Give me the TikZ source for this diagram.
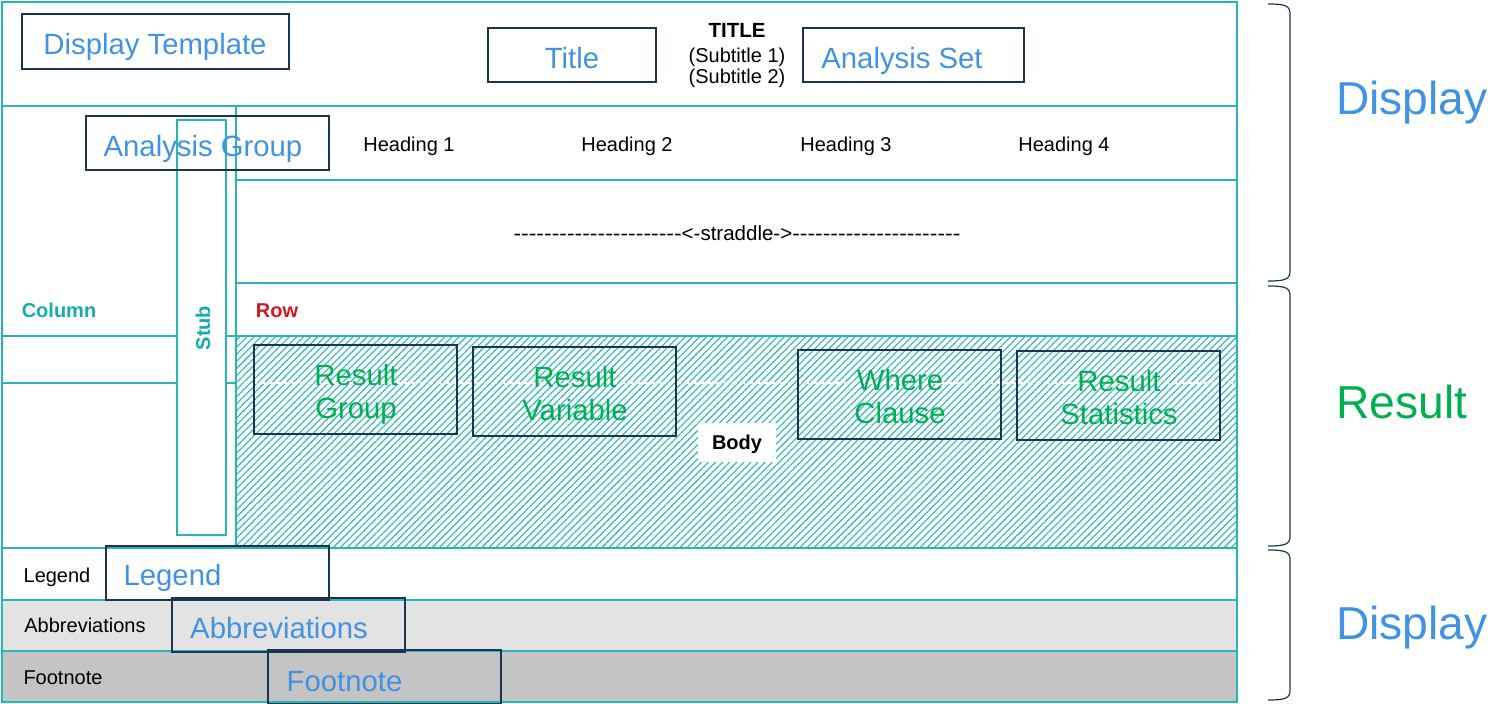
\documentclass[tikz,border=0pt]{standalone}
\usepackage{fontspec}
\usepackage{graphicx}
\setmainfont{Liberation Sans}
\newfontfamily\noligfont{Liberation Sans}
\usetikzlibrary{patterns.meta}
\definecolor{tealc}{RGB}{38,182,182}
\definecolor{tealtxt}{RGB}{20,172,172}
\definecolor{navyc}{RGB}{28,52,84}
\definecolor{bluetxt}{RGB}{66,146,226}
\definecolor{greentxt}{RGB}{0,176,80}
\definecolor{redtxt}{RGB}{210,22,34}
\definecolor{graya}{RGB}{227,227,227}
\definecolor{grayb}{RGB}{196,196,196}
\tikzset{
  tline/.style={draw=tealc, line width=1.3pt},
  dbox/.style={draw=navyc, line width=1.9pt, inner sep=0pt},
  bluelab/.style={text=bluetxt, inner sep=0pt, anchor=base, font=\fontsize{29.3}{33}\selectfont},
  greenlab/.style={text=greentxt, inner sep=0pt, anchor=base, font=\fontsize{29.3}{33}\selectfont},
  smalltxt/.style={text=black, inner sep=0pt, anchor=base, font=\fontsize{20}{23.5}\selectfont},
  boldtxt/.style={inner sep=0pt, anchor=base, font=\bfseries\fontsize{20}{23.5}\selectfont},
  sidelab/.style={inner sep=0pt, anchor=base, font=\fontsize{46.2}{50}\selectfont},
  bracec/.style={draw=navyc, line width=1.2pt},
}
\begin{document}
\begin{tikzpicture}[x=1pt,y=-1pt]
\useasboundingbox (0,0) rectangle (1492,704);
% row fills
\fill[graya] (2,600) rectangle (1237,651);
\fill[grayb] (2,651) rectangle (1237,702);
% body hatch
\path[pattern={Lines[angle=45,distance=5pt,line width=1.1pt]}, pattern color=tealc] (236,336) rectangle (1237,548);
\draw[white, line width=1.2pt, dash pattern=on 5pt off 3pt] (236,383) -- (1237,383);
% grid lines
\draw[tline] (2,106) -- (1237,106);
\draw[tline] (236,180) -- (1237,180);
\draw[tline] (236,283) -- (1237,283);
\draw[tline] (2,336) -- (1237,336);
\draw[tline] (2,383) -- (236,383);
\draw[tline] (2,548) -- (1237,548);
\draw[tline] (2,600) -- (1237,600);
\draw[tline] (2,651) -- (1237,651);
\draw[tline] (236,106) -- (236,548);
\draw[tline] (2,2) rectangle (1237,702);
% stub
\node[draw=tealc, line width=1.3pt, fill=white, minimum width=49pt, minimum height=415pt, inner sep=0pt] (stubbox) at (201.5,327.5) {};
\node[text=tealtxt, rotate=90, inner sep=0pt, font=\bfseries\fontsize{20}{23}\selectfont] (stub) at (203,328) {Stub};
% body label
\node[fill=white, minimum width=78pt, minimum height=39pt, inner sep=0pt] (bodybg) at (737,442.5) {};
\node[boldtxt] (body) at (737,449) {Body};
% header texts
\node[boldtxt, font=\bfseries\fontsize{20.5}{23}\selectfont] (title) at (737,37.5) {TITLE};
\node[smalltxt] (sub1) at (737,62.5) {(Subtitle 1)};
\node[smalltxt] (sub2) at (737,83) {(Subtitle 2)};
\node[smalltxt] (h1) at (409,151) {Heading 1};
\node[smalltxt] (h2) at (627,151) {Heading 2};
\node[smalltxt] (h3) at (846,151) {Heading 3};
\node[smalltxt] (h4) at (1064,151) {Heading 4};
\node[smalltxt, font=\noligfont\fontsize{20.5}{23.5}\selectfont] (straddle) at (737,240) {\scalebox{1.12}[1]{----------------------}<-straddle->\scalebox{1.12}[1]{----------------------}};
\node[boldtxt, text=tealtxt] (column) at (59,317.7) {Column};
\node[boldtxt, text=redtxt] (row) at (277,317.7) {Row};
\node[smalltxt] (legtxt) at (57,582.7) {Legend};
\node[smalltxt] (abbtxt) at (85,632.7) {Abbreviations};
\node[smalltxt] (foottxt) at (63,684) {Footnote};
% navy boxes
\node[dbox, minimum width=267pt, minimum height=55pt] (dtbox) at (155.5,41.5) {};
\node[bluelab] (dtlab) at (155,54.5) {Display Template};
\node[dbox, minimum width=168pt, minimum height=54pt] (tibox) at (572,55) {};
\node[bluelab] (tilab) at (572,68) {Title};
\node[dbox, minimum width=221pt, minimum height=54pt] (asbox) at (913.5,55) {};
\node[bluelab] (aslab) at (902,68) {Analysis Set};
\node[dbox, minimum width=243pt, minimum height=54pt] (agbox) at (207.5,143) {};
\node[bluelab] (aglab) at (203,156) {Analysis Group};
\node[dbox, minimum width=203pt, minimum height=89pt] (rgbox) at (355.5,389.5) {};
\node[greenlab] (rglab1) at (356,385) {Result};
\node[greenlab] (rglab2) at (356,418) {Group};
\node[dbox, minimum width=203pt, minimum height=89pt] (rvbox) at (574.5,391.5) {};
\node[greenlab] (rvlab1) at (575,387) {Result};
\node[greenlab] (rvlab2) at (575,420) {Variable};
\node[dbox, minimum width=203pt, minimum height=89pt] (wcbox) at (899.5,394.5) {};
\node[greenlab] (wclab1) at (900,390) {Where};
\node[greenlab] (wclab2) at (900,423) {Clause};
\node[dbox, minimum width=203pt, minimum height=89pt] (rsbox) at (1118.5,395.5) {};
\node[greenlab] (rslab1) at (1119,391) {Result};
\node[greenlab] (rslab2) at (1119,424) {Statistics};
\node[dbox, minimum width=223pt, minimum height=54pt] (lgbox) at (217.5,573) {};
\node[bluelab] (lglab) at (172.5,585.7) {Legend};
\node[dbox, minimum width=233pt, minimum height=54pt] (abbox) at (288.5,625) {};
\node[bluelab] (ablab) at (279,638.3) {Abbreviations};
\node[dbox, minimum width=233pt, minimum height=54pt] (ftbox) at (384.5,677) {};
\node[bluelab] (ftlab) at (344.5,691.7) {Footnote};
% braces
\draw[bracec] (1268,4) .. controls (1286,4) and (1290,6) .. (1290,14) -- (1290,271) .. controls (1290,279) and (1286,281) .. (1268,281);
\draw[bracec] (1268,286) .. controls (1286,286) and (1290,288) .. (1290,296) -- (1290,536) .. controls (1290,544) and (1286,546) .. (1268,546);
\draw[bracec] (1268,550) .. controls (1286,550) and (1290,552) .. (1290,560) -- (1290,690) .. controls (1290,698) and (1286,700) .. (1268,700);
% side labels
\node[sidelab, text=bluetxt] (disp1) at (1412,114.3) {Display};
\node[sidelab, text=greentxt] (res) at (1402,418.3) {Result};
\node[sidelab, text=bluetxt] (disp2) at (1412,639.3) {Display};
\end{tikzpicture}
\end{document}
